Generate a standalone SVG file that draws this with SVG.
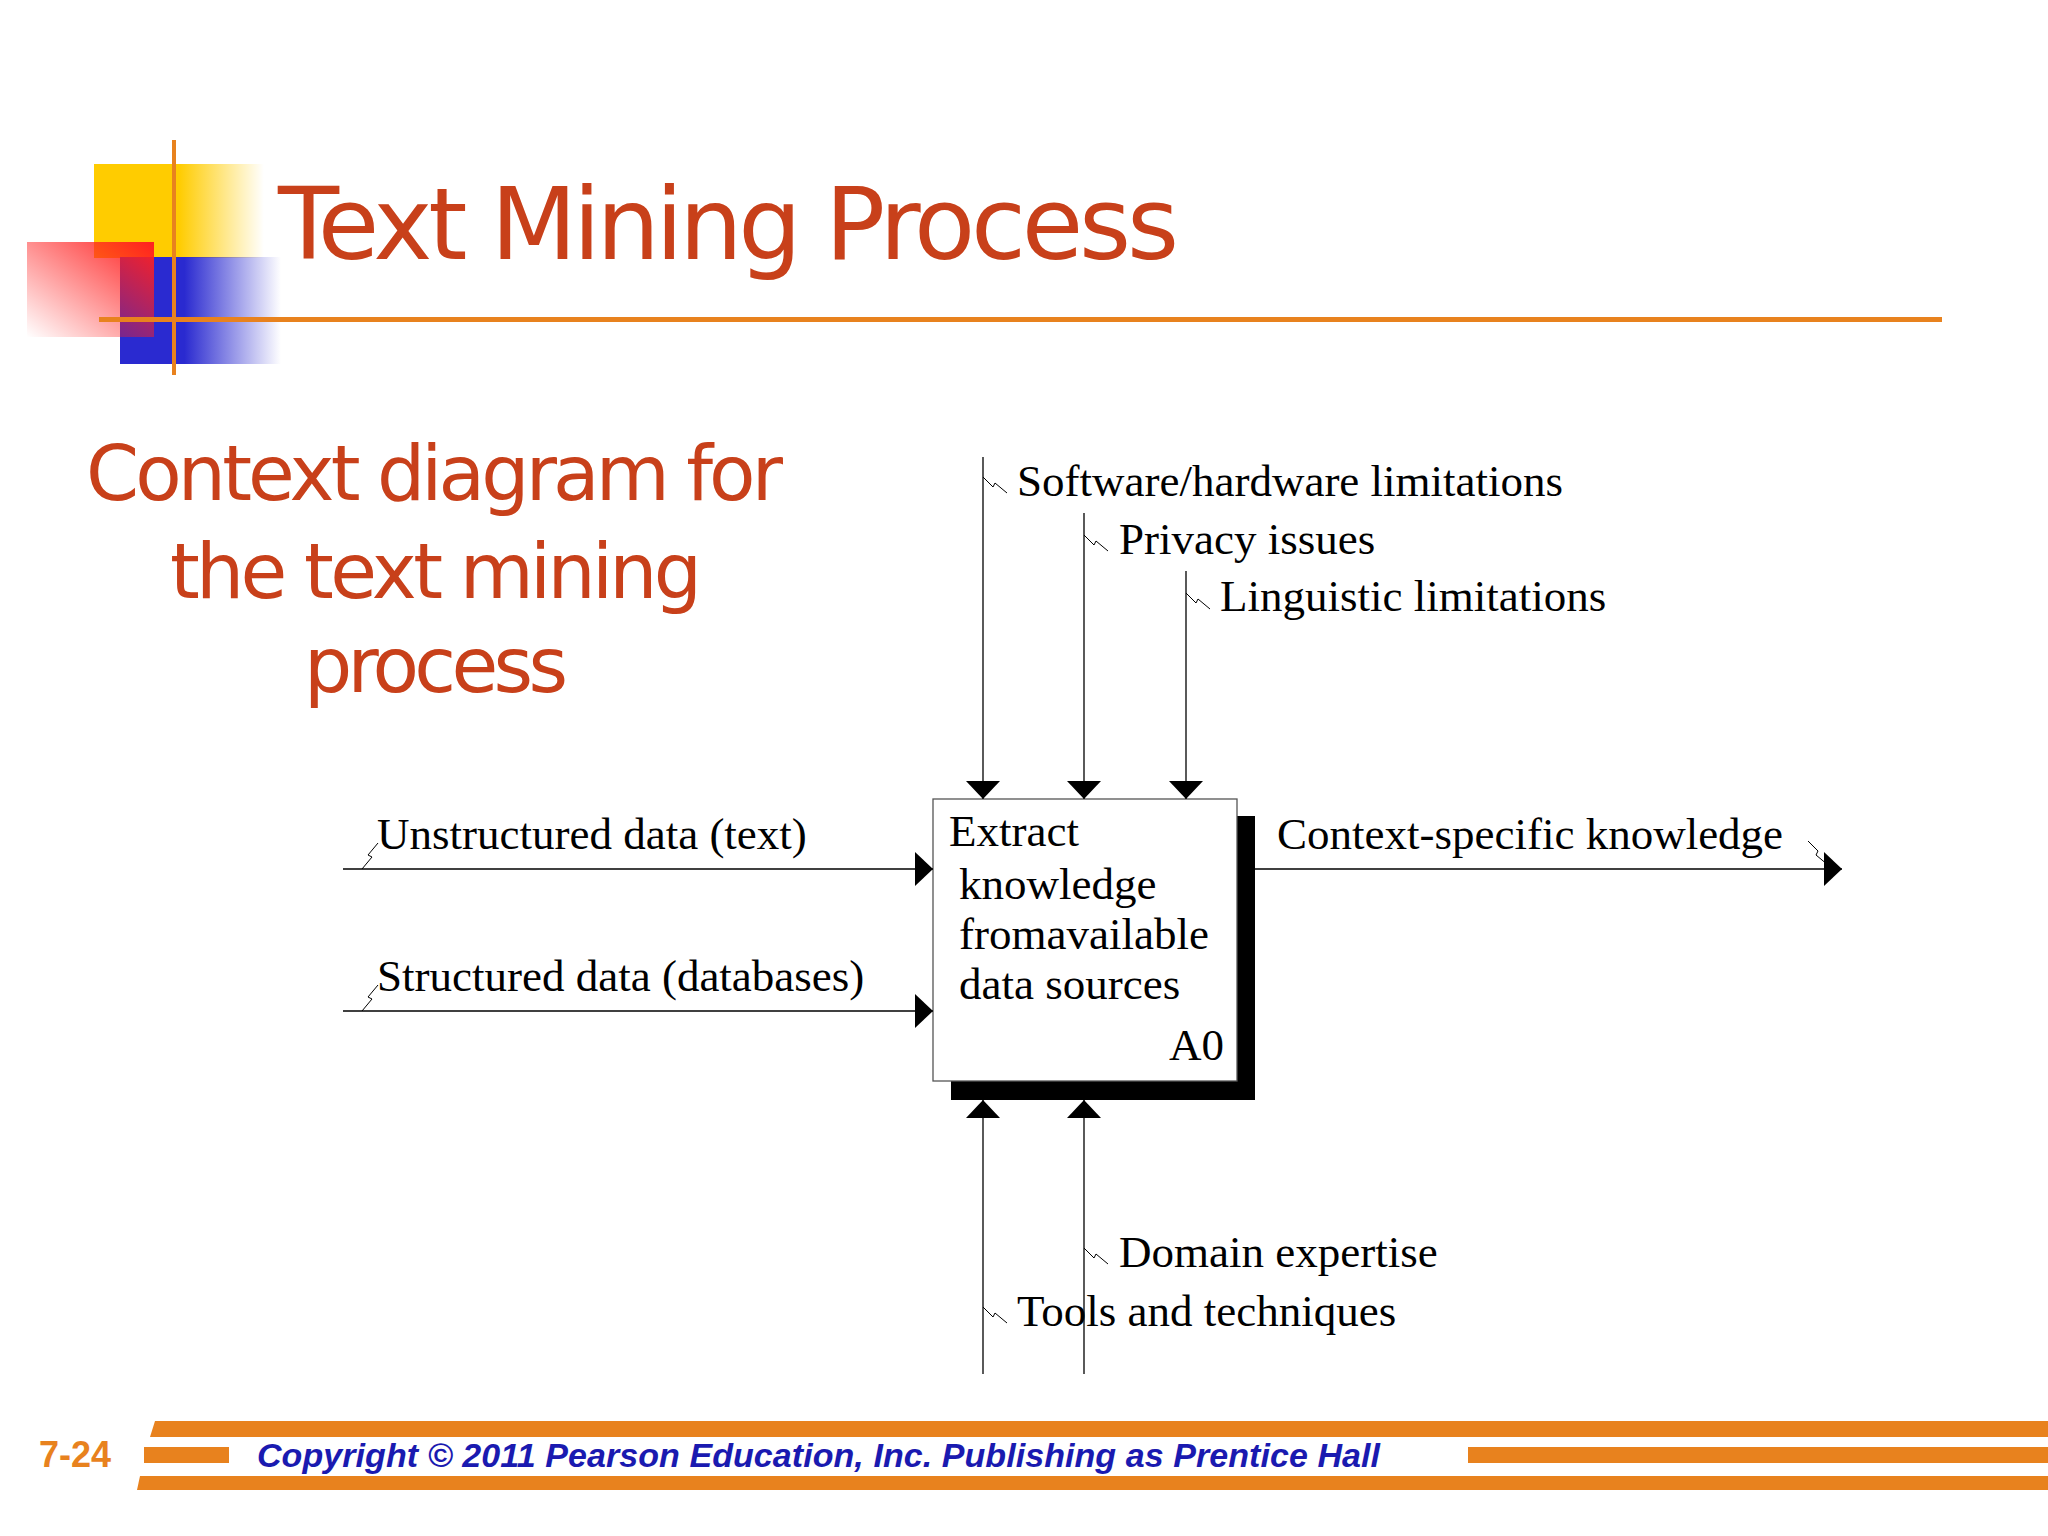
<svg xmlns="http://www.w3.org/2000/svg" width="2048" height="1536" viewBox="0 0 2048 1536">
<defs>
<linearGradient id="gy" x1="0" x2="1"><stop offset="0.5" stop-color="#ffcc00"/><stop offset="1" stop-color="#ffcc00" stop-opacity="0"/></linearGradient>
<linearGradient id="gb" x1="0" x2="1"><stop offset="0.4" stop-color="#2a2ad0"/><stop offset="1" stop-color="#2a2ad0" stop-opacity="0"/></linearGradient>
<linearGradient id="gr" x1="1" x2="0" y1="0" y2="1"><stop offset="0" stop-color="#ff2020"/><stop offset="1" stop-color="#ff2020" stop-opacity="0"/></linearGradient>
<marker id="ah" viewBox="0 0 10 10" refX="10" refY="5" markerWidth="18" markerHeight="34" markerUnits="userSpaceOnUse" orient="auto" preserveAspectRatio="none"><path d="M0,0 L10,5 L0,10 z" fill="#000"/></marker>
</defs>
<style>
.t{font-family:"Liberation Serif",serif;font-size:45px;fill:#000}
.ln{stroke:#000;stroke-width:1.3;fill:none}
.sq{stroke:#000;stroke-width:1;fill:none}
.o{fill:#e8821e}
</style>
<rect width="2048" height="1536" fill="#fff"/>
<g id="logo">
<rect x="94" y="164" width="170" height="94" fill="url(#gy)"/>
<rect x="120" y="257" width="161" height="107" fill="url(#gb)"/>
<rect x="27" y="242" width="127" height="95" fill="url(#gr)"/>
<rect x="172" y="140" width="4" height="235" fill="#e8821e"/>
<rect x="99" y="317" width="1843" height="5" fill="#e8821e"/>
</g>
<text x="278" y="259" font-family="DejaVu Sans,sans-serif" font-size="100" fill="#c8401a" textLength="901">Text Mining Process</text>
<g font-family="DejaVu Sans,sans-serif" font-size="76" fill="#c8401a">
<text x="86" y="500" textLength="697">Context diagram for</text>
<text x="170" y="598" textLength="532">the text mining</text>
<text x="304" y="692" textLength="264">process</text>
</g>
<g id="box">
<rect x="1237" y="816" width="18" height="284" fill="#000"/>
<rect x="951" y="1081" width="304" height="19" fill="#000"/>
<rect x="933" y="799" width="304" height="282" fill="#fff" stroke="#555" stroke-width="1.3"/>
<text class="t" x="949" y="846">Extract</text>
<text class="t" x="959" y="899">knowledge</text>
<text class="t" x="959" y="949">fromavailable</text>
<text class="t" x="959" y="999">data sources</text>
<text class="t" x="1224" y="1060" text-anchor="end">A0</text>
</g>
<g id="connectors">
<line class="ln" x1="983" y1="457" x2="983" y2="799" marker-end="url(#ah)"/>
<line class="ln" x1="1084" y1="513" x2="1084" y2="799" marker-end="url(#ah)"/>
<line class="ln" x1="1186" y1="571" x2="1186" y2="799" marker-end="url(#ah)"/>
<line class="ln" x1="343" y1="869" x2="933" y2="869" marker-end="url(#ah)"/>
<line class="ln" x1="343" y1="1011" x2="933" y2="1011" marker-end="url(#ah)"/>
<line class="ln" x1="1255" y1="869" x2="1842" y2="869" marker-end="url(#ah)"/>
<line class="ln" x1="983" y1="1374" x2="983" y2="1100" marker-end="url(#ah)"/>
<line class="ln" x1="1084" y1="1374" x2="1084" y2="1100" marker-end="url(#ah)"/>
<path class="sq" d="M983,477 l10,10 l2,-4 l12,10"/>
<path class="sq" d="M1084,535 l10,10 l2,-4 l12,10"/>
<path class="sq" d="M1186,593 l10,10 l2,-4 l12,10"/>
<path class="sq" d="M1084,1248 l10,10 l2,-4 l12,10"/>
<path class="sq" d="M983,1307 l10,10 l2,-4 l12,10"/>
<path class="sq" d="M362,869 l10,-12 l-4,-2 l10,-12"/>
<path class="sq" d="M362,1011 l10,-12 l-4,-2 l10,-12"/>
<path class="sq" d="M1808,841 l10,10 l-2,4 l12,10"/>
</g>
<g id="labels">
<text class="t" x="1017" y="496">Software/hardware limitations</text>
<text class="t" x="1119" y="554">Privacy issues</text>
<text class="t" x="1220" y="611">Linguistic limitations</text>
<text class="t" x="377" y="849">Unstructured data (text)</text>
<text class="t" x="377" y="991">Structured data (databases)</text>
<text class="t" x="1277" y="849">Context-specific knowledge</text>
<text class="t" x="1119" y="1267">Domain expertise</text>
<text class="t" x="1017" y="1326">Tools and techniques</text>
</g>
<g id="footer">
<polygon class="o" points="155,1421 2048,1421 2048,1437 150,1437"/>
<polygon class="o" points="140,1476 2048,1476 2048,1490 137,1490"/>
<rect class="o" x="144" y="1447" width="85" height="16"/>
<rect class="o" x="1468" y="1447" width="580" height="16"/>
<text x="39" y="1467" font-family="Liberation Sans,sans-serif" font-weight="bold" font-size="36" fill="#e8821e">7-24</text>
<text x="257" y="1467" font-family="Liberation Sans,sans-serif" font-weight="bold" font-style="italic" font-size="34" fill="#1a1ab0" textLength="1123">Copyright © 2011 Pearson Education, Inc. Publishing as Prentice Hall</text>
</g>
</svg>
